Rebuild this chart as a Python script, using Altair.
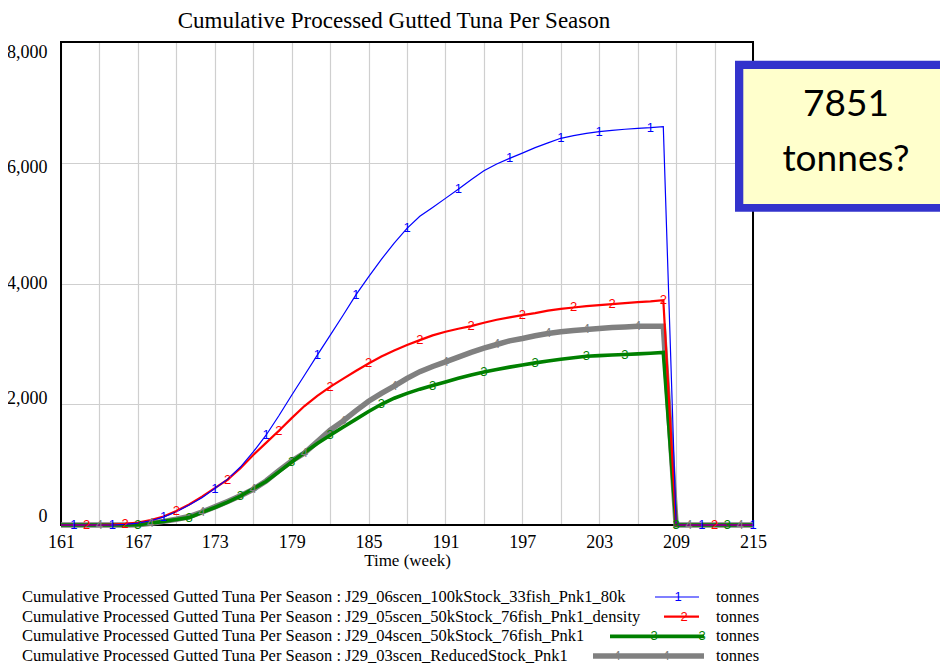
import altair as alt
import pandas as pd

# ---------------- data ----------------
TITLE = "Cumulative Processed Gutted Tuna Per Season"
X_TITLE = "Time (week)"
UNITS = "tonnes"
CALLOUT = ["7851", "tonnes?"]

weeks = list(range(161, 216))

series_names = [
    "J29_06scen_100kStock_33fish_Pnk1_80k",
    "J29_05scen_50kStock_76fish_Pnk1_density",
    "J29_04scen_50kStock_76fish_Pnk1",
    "J29_03scen_ReducedStock_Pnk1",
]
series_marks = ["1", "2", "3", "4"]

blue_vals = [0, 0, 0, 0, 0, 10, 30, 70, 130, 220, 330, 450, 603, 760, 960, 1210,
             1487, 1810, 2150, 2480, 2813, 3140, 3470, 3808, 4111, 4400, 4670, 4913,
             5113, 5260, 5410, 5560, 5720, 5868, 5980, 6073, 6160, 6250, 6330, 6405,
             6450, 6485, 6514, 6535, 6555, 6570, 6581, 6597,
             0, 0, 0, 0, 0, 0, 0]
red_vals = [0, 0, 0, 0, 5, 20, 40, 80, 140, 232, 340, 470, 610, 752, 940, 1160,
            1360, 1560, 1770, 1970, 2140, 2287, 2420, 2550, 2675, 2790, 2890, 2980,
            3062, 3140, 3200, 3250, 3293, 3350, 3400, 3440, 3476, 3510, 3550, 3580,
            3603, 3625, 3642, 3658, 3675, 3690, 3705, 3725,
            0, 0, 0, 0, 0, 0, 0]
green_vals = [0, 0, 0, 0, 0, 0, 5, 30, 60, 90, 122, 210, 290, 380, 480, 600,
              720, 880, 1044, 1200, 1350, 1487, 1620, 1750, 1880, 2000, 2100, 2180,
              2250, 2310, 2370, 2430, 2485, 2536, 2575, 2615, 2650, 2685, 2715, 2745,
              2770, 2796, 2805, 2815, 2824, 2835, 2845, 2857,
              0, 0, 0, 0, 0, 0, 0]
gray_vals = [0, 0, 0, 0, 0, 0, 5, 30, 60, 95, 140, 215, 300, 390, 485, 590,
             730, 900, 1060, 1193, 1380, 1570, 1720, 1890, 2050, 2180, 2300, 2430,
             2540, 2625, 2702, 2780, 2860, 2930, 2990, 3050, 3090, 3135, 3172, 3200,
             3220, 3239, 3255, 3270, 3280, 3293, 3293, 3293,
             0, 0, 0, 0, 0, 0, 0]

marker_weeks = [
    [162, 165, 169, 173, 177, 181, 184, 188, 192, 196, 200, 203, 207, 211, 215],
    [163, 166, 170, 174, 178, 182, 185, 189, 193, 197, 201, 204, 208, 212],
    [167, 171, 175, 179, 182, 186, 190, 194, 198, 202, 205, 209, 213],
    [164, 168, 172, 176, 180, 183, 187, 191, 195, 199, 202, 206, 210, 214],
]

all_vals = [blue_vals, red_vals, green_vals, gray_vals]

# ---------------- styling ----------------
colors = ["#0000FF", "#FF0000", "#008000", "#808080"]
widths = [1.2, 2.2, 3.6, 5.5]
SERIF = "Liberation Serif, Times New Roman, serif"
SANS = "Liberation Sans, Arial, sans-serif"

W, H = 692, 483
PAD = {"left": 53, "top": 34, "right": 187, "bottom": 141}

rows = []
for name, mk, vals, mw in zip(series_names, series_marks, all_vals, marker_weeks):
    for w, v in zip(weeks, vals):
        rows.append({"series": name, "week": w, "value": v, "label": mk, "marker": w in mw})
df = pd.DataFrame(rows)

one = pd.DataFrame({"k": [0]})

x_enc = alt.X(
    "week:Q",
    scale=alt.Scale(domain=[161, 215], nice=False, zero=False),
    axis=alt.Axis(
        values=list(range(161, 216, 3)),
        labelExpr="(datum.value - 161) % 6 == 0 ? datum.label : ''",
        format="d",
        title=X_TITLE, grid=True, ticks=False, tickSize=0, domain=False,
        labelFont=SERIF, labelFontSize=18, labelColor="black", labelPadding=8,
        labelOverlap=False, labelFlush=False,
        titleFont=SERIF, titleFontSize=17, titleFontWeight="normal",
        titleColor="black", titlePadding=1,
        gridColor="#cfcfcf", gridWidth=1.2,
    ),
)
y_enc = alt.Y(
    "value:Q",
    scale=alt.Scale(domain=[0, 8000], nice=False, zero=True),
    axis=alt.Axis(
        values=[0, 2000, 4000, 6000, 8000], format=",.0f", title=None,
        grid=True, ticks=False, tickSize=0, domain=False,
        labelFont=SERIF, labelFontSize=18, labelColor="black", labelPadding=14,
        labelOffset={"expr": "datum.value == 8000 ? 10 : datum.value == 6000 ? 5 : "
                             "datum.value == 2000 ? -6 : datum.value == 0 ? -9 : 0"},
        gridColor="#cfcfcf", gridWidth=1.2,
    ),
)

layers = []

# plot frame
layers.append(
    alt.Chart(one).mark_rect(fillOpacity=0, stroke="black", strokeWidth=2).encode(
        x=alt.value(0), x2=alt.value(W), y=alt.value(0), y2=alt.value(H)
    )
)

# series lines + numeric markers (draw gray first, blue last)
for i in [3, 2, 1, 0]:
    d = df[df.series == series_names[i]]
    layers.append(
        alt.Chart(d).mark_line(color=colors[i], strokeWidth=widths[i]).encode(
            x=x_enc, y=y_enc
        )
    )
for i in [3, 2, 1, 0]:
    d = df[(df.series == series_names[i]) & (df.marker)]
    layers.append(
        alt.Chart(d).mark_text(color=colors[i], font=SANS, fontSize=13,
                               baseline="middle", align="center").encode(
            x=x_enc, y=y_enc, text="label:N"
        )
    )

# title
layers.append(
    alt.Chart(pd.DataFrame({"t": [TITLE]})).mark_text(
        font=SERIF, fontSize=23, color="black", align="center", baseline="middle"
    ).encode(x=alt.value(333), y=alt.value(-21), text="t:N")
)

# legend (bottom)
leg_y0, leg_dy = 555, 19.7
sample_x = [(594, 638), (603, 638), (549, 643), (532, 643)]
sample_marks = [[617], [623], [593, 641], [556, 605]]
for i, name in enumerate(series_names):
    yy = leg_y0 + i * leg_dy
    layers.append(
        alt.Chart(pd.DataFrame({"t": [f"{TITLE} : {name}"]})).mark_text(
            font=SERIF, fontSize=16.5, color="black", align="left", baseline="middle"
        ).encode(x=alt.value(-39), y=alt.value(yy), text="t:N")
    )
    layers.append(
        alt.Chart(one).mark_rule(color=colors[i], strokeWidth=widths[i]).encode(
            x=alt.value(sample_x[i][0]), x2=alt.value(sample_x[i][1]), y=alt.value(yy)
        )
    )
    for mx in sample_marks[i]:
        layers.append(
            alt.Chart(pd.DataFrame({"t": [series_marks[i]]})).mark_text(
                font=SANS, fontSize=13, color=colors[i], align="center", baseline="middle"
            ).encode(x=alt.value(mx), y=alt.value(yy), text="t:N")
        )
    layers.append(
        alt.Chart(pd.DataFrame({"t": [UNITS]})).mark_text(
            font=SERIF, fontSize=16.5, color="black", align="left", baseline="middle"
        ).encode(x=alt.value(655), y=alt.value(yy), text="t:N")
    )

# callout box
layers.append(
    alt.Chart(one).mark_rect(fill="#3333CC").encode(
        x=alt.value(674), x2=alt.value(W + PAD["right"]), y=alt.value(18.7), y2=alt.value(169.7)
    )
)
layers.append(
    alt.Chart(one).mark_rect(fill="#FFFFCC").encode(
        x=alt.value(682.3), x2=alt.value(W + PAD["right"]), y=alt.value(27), y2=alt.value(162)
    )
)
for j, (txt, yy) in enumerate(zip(CALLOUT, [63, 118])):
    layers.append(
        alt.Chart(pd.DataFrame({"t": [txt]})).mark_text(
            font="Comic Sans MS, Lato, sans-serif", fontSize=37, color="black",
            align="center", baseline="middle"
        ).encode(x=alt.value(785), y=alt.value(yy), text="t:N")
    )

chart = alt.layer(*layers).properties(
    width=W, height=H, padding=PAD, autosize=alt.AutoSizeParams(type="none")
).configure_view(stroke=None).configure(background="white")

chart.save("out.html", embed_options={"renderer": "svg", "actions": False})
